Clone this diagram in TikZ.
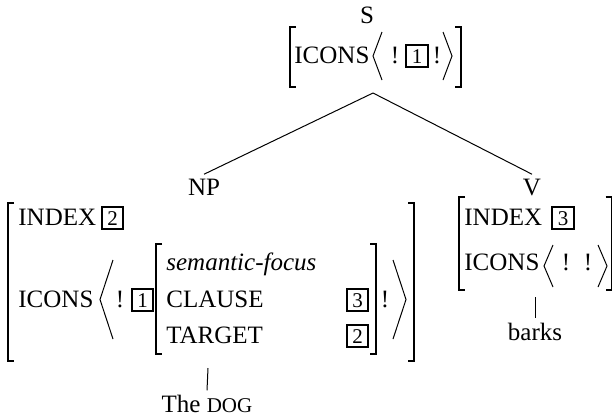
\documentclass[tikz,border=0pt]{standalone}
\usepackage{fontspec}
\setmainfont{Liberation Serif}
\tikzset{
	every node/.style={inner sep=0pt, font=\fontsize{12.5}{15}\selectfont},
	lbl/.style={inner sep=2pt},
	tag/.style={draw, line width=1.1pt, inner xsep=2.8pt, inner ysep=2pt, font=\fontsize{10.5}{12}\selectfont},
	brak/.style={line width=0.75pt},
	angl/.style={line width=0.5pt},
	branch/.style={line width=0.5pt}
}

\begin{document}
\begin{tikzpicture}[x=0.5pt, y=-0.5pt]
	\useasboundingbox (0,0) rectangle (613,419);
	% S
	\node[lbl, anchor=base] (s) at (367,23) {S};
	\node[anchor=base west] (sIcons) at (294,63) {ICONS};
	\node[anchor=base] (sBangA) at (395,63) {!};
	\node[tag, anchor=base] (sTag) at (417,63) {1};
	\node[anchor=base] (sBangB) at (437,63) {!};
	% NP
	\node[lbl, anchor=base] (np) at (204,195) {NP};
	\node[anchor=base west] (npIndex) at (18,225) {INDEX};
	\node[tag, anchor=base] (npIndexTag) at (112.5,225) {2};
	\node[anchor=base west] (npIcons) at (18,307) {ICONS};
	\node[anchor=base] (npBangA) at (120,307) {!};
	\node[tag, anchor=base] (npTag) at (142.5,307) {1};
	\node[anchor=base west] (focus) at (166,270) {\itshape semantic-focus};
	\node[anchor=base west] (clause) at (166,307) {CLAUSE};
	\node[anchor=base west] (target) at (166,343) {TARGET};
	\node[tag, anchor=base] (clauseTag) at (357.5,307) {3};
	\node[tag, anchor=base] (targetTag) at (357.5,343) {2};
	\node[anchor=base] (npBangB) at (385,307) {!};
	% V
	\node[lbl, anchor=base] (v) at (532,195) {V};
	\node[anchor=base west] (vIndex) at (464,225) {INDEX};
	\node[tag, anchor=base] (vIndexTag) at (563,225) {3};
	\node[anchor=base west] (vIcons) at (464,270) {ICONS};
	\node[anchor=base] (vBangA) at (566,270) {!};
	\node[anchor=base] (vBangB) at (588,270) {!};
	% words
	\node[lbl, anchor=base] (dog) at (207,412) {The {\fontsize{10.5}{12}\selectfont DOG}};
	\node[lbl, anchor=base] (barks) at (535,340) {barks};
	% square brackets
	\foreach \xa/\xb/\ya/\yb in {290/461/27/87, 8/414/203/361, 156/376/244/354, 459/611.5/197/290} {
		\draw[brak] (\xa+6,\ya) -- (\xa,\ya) -- (\xa,\yb) -- (\xa+6,\yb);
		\draw[brak] (\xb-6,\ya) -- (\xb,\ya) -- (\xb,\yb) -- (\xb-6,\yb);}
	% angle brackets
	\foreach \xa/\xb/\ya/\yb/\w in {373/452/32/80/9, 100/406/260/339/13, 544/607/245/287/9} {
		\draw[angl] (\xa+\w,\ya) -- (\xa,{(\ya+\yb)/2}) -- (\xa+\w,\yb);
		\draw[angl] (\xb-\w,\ya) -- (\xb,{(\ya+\yb)/2}) -- (\xb-\w,\yb);}
	% tree
	\coordinate (sFoot) at (373,93);
	\coordinate (npFoot) at (208,368);
	\coordinate (vFoot) at (535,297);
	\draw[branch] (sFoot) -- (np.north);
	\draw[branch] (sFoot) -- (v.north);
	\draw[branch] (npFoot) -- (dog.north);
	\draw[branch] (vFoot) -- (barks.north);
\end{tikzpicture}
\end{document}
